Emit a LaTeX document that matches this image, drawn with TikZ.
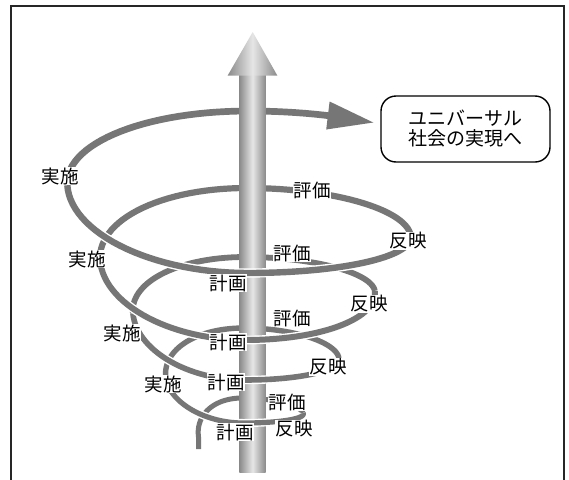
\documentclass[tikz,border=0pt]{standalone}
\usepackage{fontspec}
\newfontfamily\jp{Noto Sans CJK JP}
\definecolor{helixgray}{RGB}{118,118,118}
\definecolor{poledark}{RGB}{138,138,138}
\definecolor{polelight}{RGB}{230,230,230}
\begin{document}
\begin{tikzpicture}[x=1pt,y=-1pt,
  declare function={hx(\x)=241.4+1.55*\x-(34.7+34.35*\x)*sin(360*\x);
                    hy(\x,\y,\z)=\y+(\z-\y)*abs(cos(360*\x));},
  spiral/.style={draw=white, line width=1.4pt, double=helixgray, double distance=#1},
  lab/.style={fill=white, inner sep=0.6pt, font=\jp\fontsize{18.5}{19}\selectfont},
  goalbox/.style={draw, line width=1.4pt, rounded corners=15pt, minimum width=169pt,
                  minimum height=66pt, align=center, inner sep=0pt,
                  font=\jp\fontsize{19}{20}\selectfont},
  frameline/.style={line width=1.3pt, black!85},
]
\useasboundingbox (0,0) rectangle (569,479);
% frame
\draw[frameline] (11,486) -- (11,6) -- (564,6) -- (564,486);
% back arcs (behind the pole)
\draw[spiral=5pt] (198.5,449) -- plot[domain=0.25:0.5,samples=30] ({hx(\x)},{hy(\x,437,398)})
   -- plot[domain=0.5:0.75,samples=30] ({hx(\x)},{hy(\x,413,398)});
\draw[spiral=5.4pt] plot[domain=1.25:1.5,samples=30] ({hx(\x)},{hy(\x,377,328)})
   -- plot[domain=1.5:1.75,samples=30] ({hx(\x)},{hy(\x,358,328)});
\draw[spiral=5.8pt] plot[domain=2.25:2.5,samples=30] ({hx(\x)},{hy(\x,313,257)})
   -- plot[domain=2.5:2.75,samples=30] ({hx(\x)},{hy(\x,291,257)});
\draw[spiral=6.2pt] plot[domain=3.25:3.5,samples=30] ({hx(\x)},{hy(\x,260,188)})
   -- plot[domain=3.5:3.75,samples=30] ({hx(\x)},{hy(\x,236,188)});
\draw[spiral=6.7pt] plot[domain=4.25:4.5,samples=30] ({hx(\x)},{hy(\x,185,111)})
   -- plot[domain=4.5:4.571,samples=10] ({hx(\x)},{hy(\x,162,111)});
\fill[helixgray] (329.6,101.5) -- (373.3,122.5) -- (326.2,129.5) -- cycle;
% pole
\shade[left color=poledark, right color=poledark, middle color=polelight]
  (239.3,74) rectangle (265.7,472);
\shade[left color=poledark, right color=poledark, middle color=polelight]
  (227.7,75.5) -- (252.7,32) -- (277.3,75.5) -- cycle;
% front arcs (in front of the pole)
\draw[spiral=5.2pt] plot[domain=0.75:1,samples=30] ({hx(\x)},{hy(\x,413,423)})
   -- plot[domain=1:1.25,samples=30] ({hx(\x)},{hy(\x,377,423)});
\draw[spiral=5.6pt] plot[domain=1.75:2,samples=30] ({hx(\x)},{hy(\x,358,380)})
   -- plot[domain=2:2.25,samples=30] ({hx(\x)},{hy(\x,313,380)});
\draw[spiral=6pt] plot[domain=2.75:3,samples=30] ({hx(\x)},{hy(\x,291,340)})
   -- plot[domain=3:3.25,samples=30] ({hx(\x)},{hy(\x,260,340)});
\draw[spiral=6.4pt] plot[domain=3.75:4,samples=30] ({hx(\x)},{hy(\x,236,273)})
   -- plot[domain=4:4.25,samples=30] ({hx(\x)},{hy(\x,185,273)});
% labels
\node[lab] (plan1) at (235,432) {計画};
\node[lab] (plan2) at (226,382) {計画};
\node[lab] (plan3) at (228,342) {計画};
\node[lab] (plan4) at (228,283) {計画};
\node[lab] (do1) at (163,384) {実施};
\node[lab] (do2) at (122,333) {実施};
\node[lab] (do3) at (87,259) {実施};
\node[lab] (do4) at (60,176) {実施};
\node[lab] (check1) at (287,402) {評価};
\node[lab] (check2) at (292,318) {評価};
\node[lab] (check3) at (292,253) {評価};
\node[lab] (check4) at (312,190) {評価};
\node[lab] (act1) at (294,429) {反映};
\node[lab] (act2) at (328,367) {反映};
\node[lab] (act3) at (369,304) {反映};
\node[lab] (act4) at (408,241) {反映};
% goal box
\node[goalbox] (goal) at (465.5,129) {ユニバーサル\\社会の実現へ};
\end{tikzpicture}
\end{document}
